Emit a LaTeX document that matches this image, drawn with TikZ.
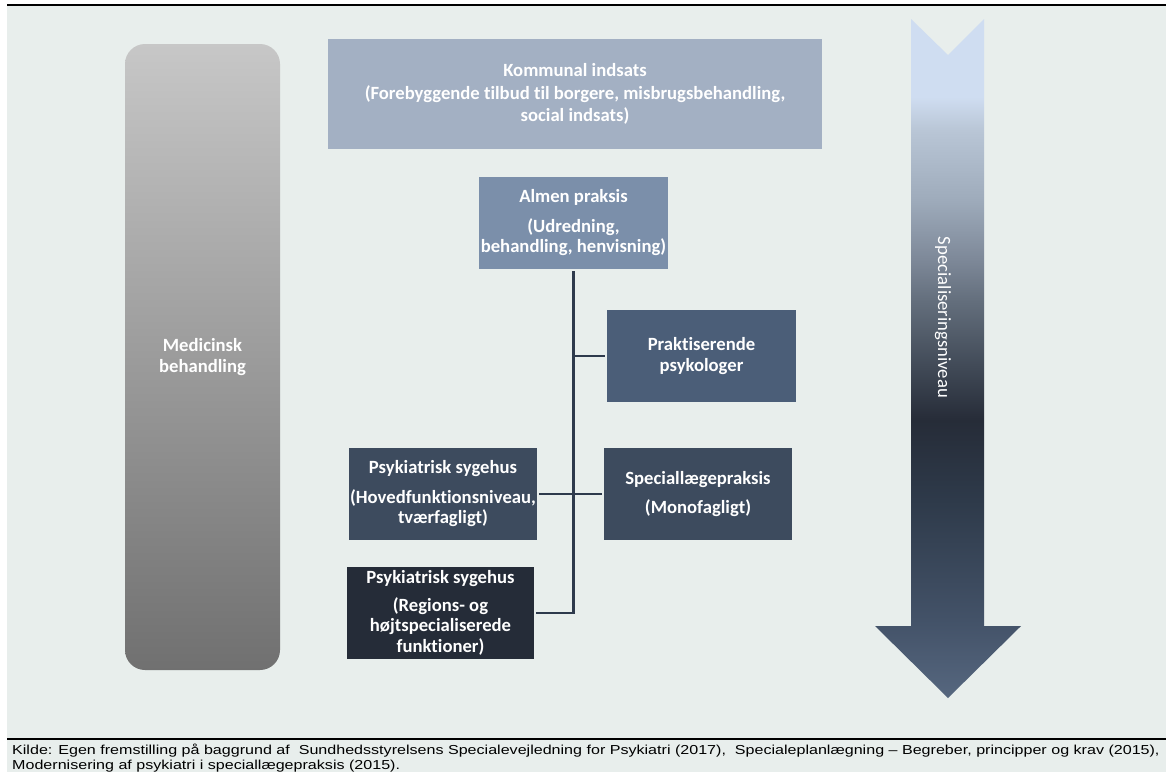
\documentclass[tikz,border=0pt]{standalone}
\usepackage{fontspec}
\usepackage{graphicx}
\setmainfont{Carlito}[Ligatures=NoCommon]
\newfontfamily\kildefont{Liberation Sans}
\newcommand\kildeline[1]{\scalebox{1.237}[1]{#1}}

\definecolor{bgcol}{HTML}{E8EEEC}
\definecolor{kommcol}{HTML}{A3B0C3}
\definecolor{almencol}{HTML}{7B8FAA}
\definecolor{prakcol}{HTML}{4B5E78}
\definecolor{midcol}{HTML}{3D4B5E}
\definecolor{darkcol}{HTML}{252C38}
\definecolor{linecol}{HTML}{2E3A4C}

\definecolor{niv97}{HTML}{CFDDF1}
\definecolor{niv130}{HTML}{B9C6D6}
\definecolor{niv200}{HTML}{9EABBB}
\definecolor{niv260}{HTML}{7D8898}
\definecolor{niv300}{HTML}{646F7D}
\definecolor{niv370}{HTML}{3F4855}
\definecolor{niv420}{HTML}{262C38}
\definecolor{niv500}{HTML}{2E3A4A}
\definecolor{niv620}{HTML}{435268}
\definecolor{niv698}{HTML}{56677F}

\pgfdeclareverticalshading{nivshade}{100bp}{
  color(0bp)=(niv698); color(25bp)=(niv698); color(30.74bp)=(niv620);
  color(39.58bp)=(niv500); color(45.47bp)=(niv420); color(49.15bp)=(niv370);
  color(54.31bp)=(niv300); color(57.25bp)=(niv260); color(61.67bp)=(niv200);
  color(66.83bp)=(niv130); color(69.26bp)=(niv97); color(100bp)=(niv97)}

\begin{document}
\begin{tikzpicture}[
  x = 1pt,
  y = -1pt,
  level/.style = {
    shape = rectangle,
    text = white,
    align = center,
    inner sep = 0pt,
    outer sep = 2pt,
    minimum width = 188pt,
    minimum height = 92pt,
    font = \fontsize{18.67}{20.5}\selectfont\bfseries,
  }
]
  \useasboundingbox (0, 0) rectangle (1166, 772);
  \fill[bgcol] (7, 5) rectangle (1166, 772);
  \draw[line width = 2pt] (7, 4.5) -- (1166, 4.5);
  \draw[line width = 2pt] (7, 739) -- (1166, 739);

  \node[level, minimum width = 155pt, minimum height = 626pt, rounded corners = 20pt,
    top color = black!22, bottom color = black!56] (med) at (202.5, 357)
    {Medicinsk\\behandling};

  \node[level, fill = kommcol, minimum width = 494pt, minimum height = 110pt,
    font = \fontsize{18.67}{22.5}\selectfont\bfseries] (komm) at (575, 94)
    {Kommunal indsats\\(Forebyggende tilbud til borgere, misbrugsbehandling,\\social indsats)};
  \node[level, fill = almencol, minimum width = 189pt] (almen) at (573.5, 223)
    {Almen praksis\\[9pt](Udredning,\\behandling, henvisning)};
  \node[level, fill = prakcol, minimum width = 189pt] (prak) at (701.5, 356)
    {Praktiserende\\psykologer};
  \node[level, fill = midcol] (hoved) at (443, 494)
    {Psykiatrisk sygehus\\[9pt](Hovedfunktionsniveau,\\tværfagligt)};
  \node[level, fill = midcol] (spec) at (698, 494)
    {Speciallægepraksis\\[9pt](Monofagligt)};
  \node[level, fill = darkcol, minimum width = 187pt] (regions) at (440.5, 613)
    {Psykiatrisk sygehus\\[7pt](Regions- og\\højtspecialiserede\\funktioner)};

  \coordinate (jprak) at (almen.south |- prak.west);

  \begin{scope}[every path/.style = {draw = linecol, line width = 2.5pt}]
    \draw (almen.south) |- (regions.east);
    \draw (jprak) -- (prak.west);
    \draw (hoved.east) -- (spec.west);
  \end{scope}

  \shade[shading = nivshade] (911, 19) -- (948, 55) -- (984, 19) -- (984, 626)
    -- (1021, 626) -- (948, 698) -- (875, 626) -- (911, 626) -- cycle;
  \node[text = white, rotate = -90, inner sep = 0pt,
    font = \fontsize{18.67}{20}\selectfont] (niv)
    at (943, 317.5) {Specialiseringsniveau};

  \node[anchor = north west, align = left, inner sep = 0pt,
    font = \kildefont\fontsize{13}{15}\selectfont] (kilde) at (12, 744)
    {\kildeline{Kilde: Egen fremstilling på baggrund af\ \ Sundhedsstyrelsens Specialevejledning for Psykiatri (2017),\ \ Specialeplanlægning – Begreber, principper og krav (2015),}\\
     \kildeline{Modernisering af psykiatri i speciallægepraksis (2015).}};
\end{tikzpicture}
\end{document}
